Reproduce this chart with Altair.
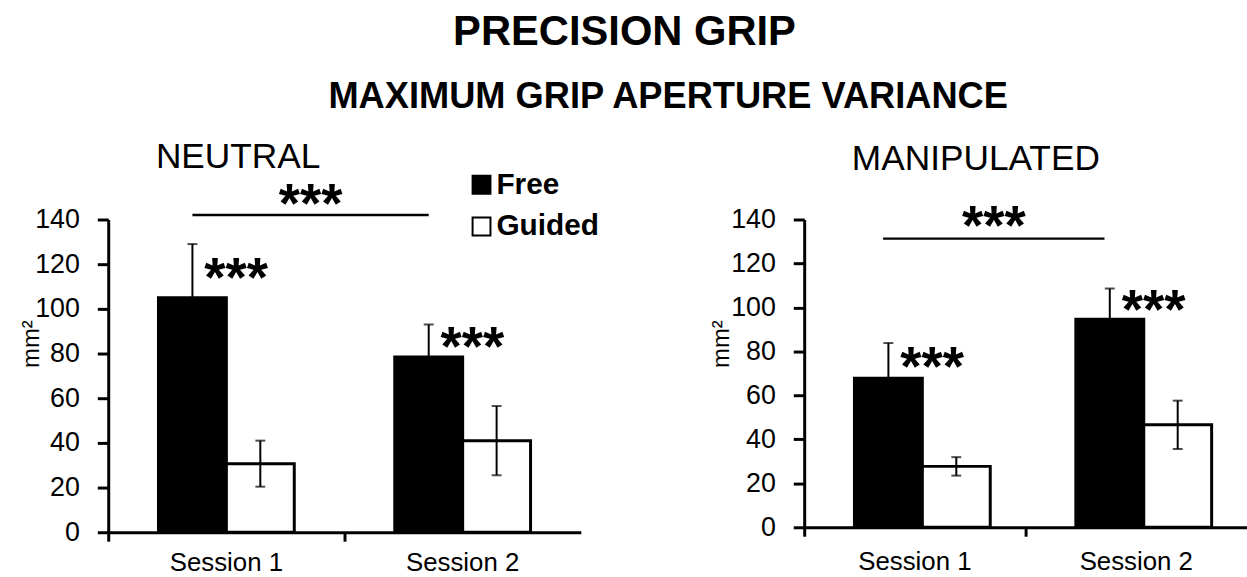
import altair as alt
import pandas as pd

# ---- data -------------------------------------------------------------
sessions = ["Session 1", "Session 2"]
conditions = ["Free", "Guided"]

neutral_free = [105.0, 78.5]
neutral_free_err = [24.0, 14.5]
neutral_guided = [30.7, 41.0]
neutral_guided_err = [10.3, 15.5]
neutral_bracket = 142.0

manip_free = [67.8, 94.6]
manip_free_err = [16.0, 14.0]
manip_guided = [27.7, 46.6]
manip_guided_err = [4.2, 11.0]
manip_bracket = 131.3

y_ticks = [0, 20, 40, 60, 80, 100, 120, 140]

# ---- layout constants ---------------------------------------------------
FONT = "Liberation Sans"
PAD_OUTER = 0.74  # outer padding of the bar pair inside each session band
FREE_POS = (PAD_OUTER + 0.5) / (2 + 2 * PAD_OUTER)  # centre of the Free bar in its band
STAR_SIZE = 55
STAR_MID = 0.42 * STAR_SIZE  # height of the asterisk centre above the baseline


def panel(title, free, free_err, guided, guided_err, bracket, width, height,
          show_legend, title_dx, title_offset, ytitle_x, bracket_gap, xlabel_pad):
    df = pd.DataFrame({
        "session": sessions * 2,
        "condition": ["Free"] * 2 + ["Guided"] * 2,
        "value": free + guided,
        "err": free_err + guided_err,
    })
    df["lo"] = df["value"] - df["err"]
    df["hi"] = df["value"] + df["err"]

    x_scale = alt.Scale(paddingInner=0, paddingOuter=0)
    # ticks sit on the left edge of each session band; labels stay centred
    x_axis = alt.Axis(bandPosition=0, labelPadding=xlabel_pad)
    y_scale = alt.Scale(domain=[0, 140], nice=False)
    y_axis = alt.Axis(values=y_ticks, titleX=ytitle_x, titleY=125,
                      titleAngle=270, titleAlign="center",
                      titleBaseline="alphabetic")

    def xenc(**kw):
        return alt.X("session:N", sort=sessions, title=None, scale=x_scale,
                     axis=x_axis, **kw)

    def yenc(field):
        return alt.Y(field, title="mm²", scale=y_scale, axis=y_axis)

    xo = alt.XOffset("condition:N", sort=conditions,
                     scale=alt.Scale(paddingInner=0, paddingOuter=PAD_OUTER))

    if show_legend:
        legend = alt.Legend(orient="none", legendX=361, legendY=-50, title=None,
                            labelFont=FONT, labelFontSize=30, labelFontWeight="bold",
                            labelColor="black", symbolType="square", symbolSize=324,
                            symbolStrokeColor="black", symbolStrokeWidth=2,
                            rowPadding=12, labelOffset=0)
    else:
        legend = None

    base = alt.Chart(df)
    bars = base.mark_bar(stroke="black", strokeWidth=3).encode(
        x=xenc(), xOffset=xo, y=yenc("value:Q"),
        fill=alt.Fill("condition:N", sort=conditions,
                      scale=alt.Scale(domain=conditions, range=["black", "white"]),
                      legend=legend),
    )
    whisker = base.mark_rule(color="black", strokeWidth=2).encode(
        x=xenc(), xOffset=xo, y=yenc("lo:Q"), y2="hi:Q")
    cap_hi = base.mark_tick(color="black", orient="horizontal", size=10,
                            thickness=2).encode(x=xenc(), xOffset=xo, y=yenc("hi:Q"))
    cap_lo = base.mark_tick(color="black", orient="horizontal", size=10,
                            thickness=2).encode(x=xenc(), xOffset=xo, y=yenc("lo:Q"))

    # significance stars beside each Free bar
    stars = base.transform_filter(alt.datum.condition == "Free").transform_calculate(
        star_y="datum.value + 0.45 * datum.err"
    ).mark_text(text="***", align="left", baseline="alphabetic", dx=12,
                dy=STAR_MID, font=FONT, fontSize=STAR_SIZE,
                fontWeight="bold", color="black").encode(
        x=xenc(), xOffset=xo, y=yenc("star_y:Q"))

    # bracket between the two Free bars
    br = pd.DataFrame({"session": sessions, "h": [bracket, bracket]})
    bracket_line = alt.Chart(br).mark_line(color="black", strokeWidth=2.5).encode(
        x=xenc(bandPosition=FREE_POS), y=yenc("h:Q"))
    bracket_star = alt.Chart(br.iloc[:1]).mark_text(
        text="***", align="center", baseline="alphabetic",
        dy=STAR_MID - bracket_gap,
        font=FONT, fontSize=STAR_SIZE, fontWeight="bold", color="black").encode(
        x=xenc(bandPosition=FREE_POS + 0.5), y=yenc("h:Q"))

    return alt.layer(bars, whisker, cap_hi, cap_lo, stars, bracket_line,
                     bracket_star).properties(
        width=width, height=height,
        title=alt.TitleParams(title, font=FONT, fontSize=35.5, fontWeight="normal",
                              anchor="start", frame="group", dx=title_dx,
                              color="black", offset=title_offset),
    ).resolve_scale(fill="independent")


left = panel("NEUTRAL", neutral_free, neutral_free_err, neutral_guided,
             neutral_guided_err, neutral_bracket, 476, 315, True, 48, -6, -70, 16, 9)
right = panel("MANIPULATED", manip_free, manip_free_err, manip_guided,
              manip_guided_err, manip_bracket, 446, 310, False, 48, 23, -76, 18, 13)

panels = alt.hconcat(left, right, spacing=111).resolve_scale(fill="independent").properties(
    title=alt.TitleParams("MAXIMUM GRIP APERTURE VARIANCE", font=FONT, fontSize=36.5,
                          fontWeight="bold", color="black", anchor="middle",
                          offset=25, dx=35),
)

chart = alt.vconcat(panels).properties(
    title=alt.TitleParams("PRECISION GRIP", font=FONT, fontSize=42, fontWeight="bold",
                          color="black", anchor="middle", offset=26, dx=-9),
    padding={"left": 20, "top": 9, "right": 0, "bottom": 0},
    background="white",
).configure_view(stroke=None).configure_axis(
    domainColor="black", domainWidth=3, tickColor="black", tickWidth=3,
    labelColor="black", labelFont=FONT, grid=False,
    titleFont=FONT, titleFontSize=24, titleFontWeight="normal", titleColor="black",
).configure_axisY(
    tickSize=11, labelPadding=18, labelFontSize=27,
).configure_axisX(
    tickSize=9, labelFontSize=26, labelAngle=0,
)

chart.save("out.html", embed_options={"renderer": "svg", "actions": False})
